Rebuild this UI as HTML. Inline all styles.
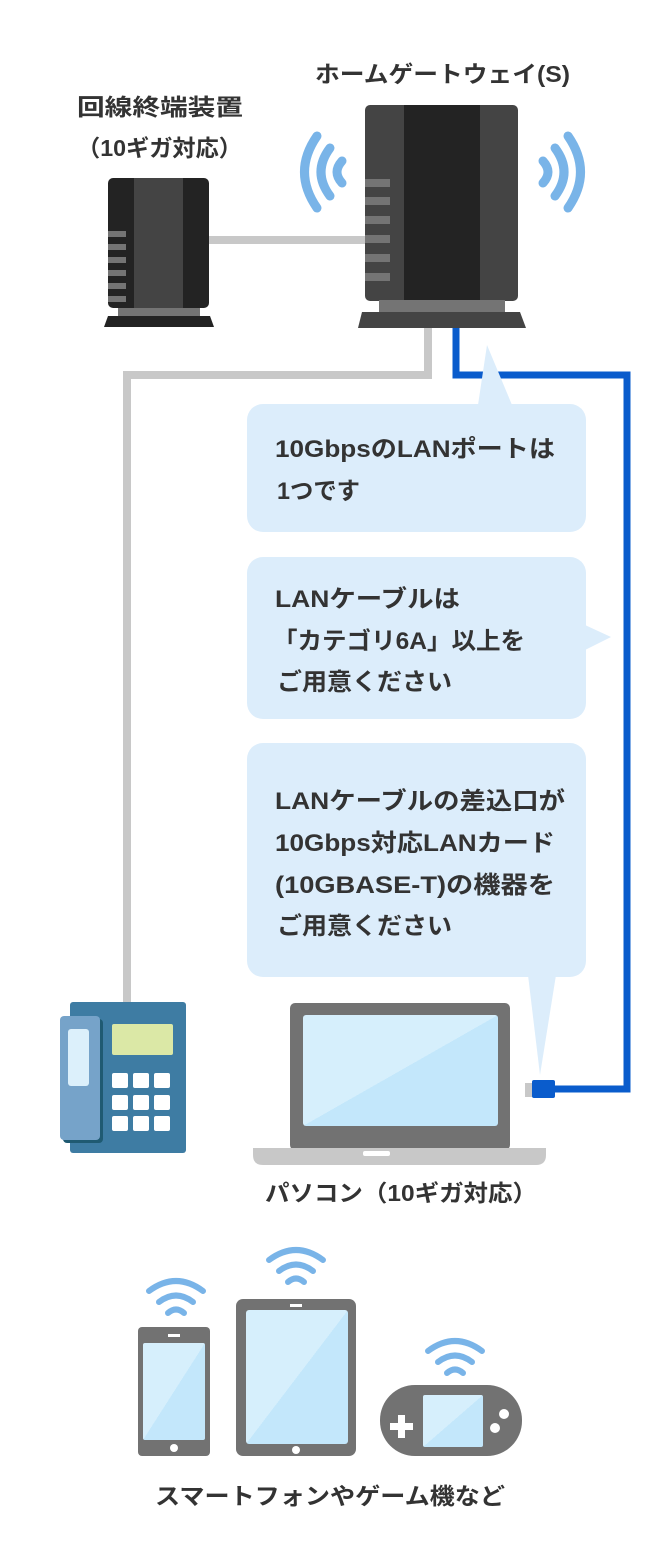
<!DOCTYPE html>
<html><head><meta charset="utf-8"><style>
html,body{margin:0;padding:0;background:#fff;}
svg{display:block;}
text{font-family:"Liberation Sans","Noto Sans CJK JP",sans-serif;font-weight:bold;fill:#333;}
</style></head><body>
<svg width="670" height="1565" viewBox="0 0 670 1565" xmlns="http://www.w3.org/2000/svg">
<defs>
<linearGradient id="scr" x1="0" y1="0" x2="1" y2="1">
<stop offset="0.5" stop-color="#d6effc"/><stop offset="0.5" stop-color="#c3e7fb"/>
</linearGradient>
</defs>
<text x="315" y="82" font-size="23" textLength="255" lengthAdjust="spacingAndGlyphs">ホームゲートウェイ(S)</text>
<text x="77" y="115" font-size="23" textLength="166" lengthAdjust="spacingAndGlyphs">回線終端装置</text>
<text x="77" y="156" font-size="23" textLength="165" lengthAdjust="spacingAndGlyphs">（10ギガ対応）</text>

<g fill="none" stroke="#c8c8c8" stroke-width="8">
<line x1="209" y1="240" x2="366" y2="240"/>
<polyline points="428,328 428,375 127,375 127,1003"/>
</g>
<polyline points="456,328 456,375 627,375 627,1089 553,1089" fill="none" stroke="#0a5ccc" stroke-width="7"/>

<rect x="108" y="178" width="101" height="130" rx="5" fill="#232323"/>
<rect x="134" y="178" width="49" height="130" fill="#444"/>
<g fill="#747474"><rect x="108" y="231" width="18" height="6"/><rect x="108" y="244" width="18" height="6"/><rect x="108" y="257" width="18" height="6"/><rect x="108" y="270" width="18" height="6"/><rect x="108" y="283" width="18" height="6"/><rect x="108" y="296" width="18" height="6"/></g>
<rect x="118" y="308" width="82" height="8" fill="#747474"/>
<path d="M108,316 H210 L214,327 H104 Z" fill="#232323"/>

<rect x="365" y="105" width="153" height="196" rx="5" fill="#444"/>
<rect x="404" y="105" width="76" height="196" fill="#232323"/>
<g fill="#747474"><rect x="365" y="179" width="25" height="8"/><rect x="365" y="197" width="25" height="8"/><rect x="365" y="216" width="25" height="8"/><rect x="365" y="235" width="25" height="8"/><rect x="365" y="254" width="25" height="8"/><rect x="365" y="273" width="25" height="8"/></g>
<rect x="379" y="300" width="126" height="12" fill="#747474"/>
<path d="M362,312 H520 L526,328 H358 Z" fill="#444"/>
<g fill="none" stroke="#79b4e8" stroke-width="9" stroke-linecap="round">
<path d="M342,161 Q332,172 342,183"/>
<path d="M330,148 Q312,172 330,196"/>
<path d="M317,136 Q292,172 317,208"/>
<path d="M543,161 Q553,172 543,183"/>
<path d="M555,148 Q573,172 555,196"/>
<path d="M568,136 Q593,172 568,208"/>
</g>

<g fill="#dcedfb">
<rect x="247" y="404" width="339" height="128" rx="16"/>
<path d="M478,405 L487,345 L512,405 Z"/>
<rect x="247" y="557" width="339" height="162" rx="16"/>
<path d="M585,625 L611,637 L585,650 Z"/>
<rect x="247" y="743" width="339" height="234" rx="16"/>
<path d="M528,975 L540,1075 L556,975 Z"/>
</g>
<g font-size="24">
<text x="275" y="457" textLength="280" lengthAdjust="spacingAndGlyphs">10GbpsのLANポートは</text>
<text x="277" y="499" textLength="83" lengthAdjust="spacingAndGlyphs">1つです</text>
<text x="275" y="607" textLength="185" lengthAdjust="spacingAndGlyphs">LANケーブルは</text>
<text x="273" y="649" textLength="252" lengthAdjust="spacingAndGlyphs">「カテゴリ6A」以上を</text>
<text x="277" y="690" textLength="175" lengthAdjust="spacingAndGlyphs">ご用意ください</text>
<text x="275" y="809" textLength="290" lengthAdjust="spacingAndGlyphs">LANケーブルの差込口が</text>
<text x="275" y="851" textLength="280" lengthAdjust="spacingAndGlyphs">10Gbps対応LANカード</text>
<text x="275" y="893" textLength="280" lengthAdjust="spacingAndGlyphs">(10GBASE-T)の機器を</text>
<text x="277" y="934" textLength="175" lengthAdjust="spacingAndGlyphs">ご用意ください</text>
</g>

<rect x="70" y="1002" width="116" height="151" rx="3" fill="#3e7ca3"/>
<rect x="63" y="1019" width="40" height="124" rx="4" fill="#1f5a72"/>
<rect x="60" y="1016" width="40" height="124" rx="4" fill="#76a3c9"/>
<rect x="68" y="1029" width="21" height="57" rx="3" fill="#dcf0fb"/>
<rect x="112" y="1024" width="61" height="31" rx="2" fill="#dbe8a6"/>
<g fill="#fff">
<rect x="112" y="1073" width="16" height="15" rx="2"/><rect x="133" y="1073" width="16" height="15" rx="2"/><rect x="154" y="1073" width="16" height="15" rx="2"/>
<rect x="112" y="1095" width="16" height="15" rx="2"/><rect x="133" y="1095" width="16" height="15" rx="2"/><rect x="154" y="1095" width="16" height="15" rx="2"/>
<rect x="112" y="1116" width="16" height="15" rx="2"/><rect x="133" y="1116" width="16" height="15" rx="2"/><rect x="154" y="1116" width="16" height="15" rx="2"/>
</g>

<rect x="290" y="1003" width="220" height="147" rx="5" fill="#727272"/>
<rect x="303" y="1015" width="195" height="111" rx="3" fill="url(#scr)"/>
<path d="M253,1148 H546 V1155 Q546,1165 536,1165 H263 Q253,1165 253,1155 Z" fill="#c8c8c8"/>
<rect x="363" y="1151" width="27" height="5" rx="2" fill="#fff"/>
<rect x="525" y="1083" width="9" height="14" fill="#c8c8c8"/>
<rect x="532" y="1080" width="23" height="18" rx="2" fill="#0a5ccc"/>
<text x="265" y="1201" font-size="23" textLength="272" lengthAdjust="spacingAndGlyphs">パソコン（10ギガ対応）</text>

<g fill="none" stroke="#79b4e8" stroke-width="6" stroke-linecap="round">
<path d="M168,1313 Q176,1306 184,1313"/><path d="M159,1302 Q176,1289 193,1302"/><path d="M149,1291 Q176,1271 203,1291"/>
<path d="M288,1282 Q296,1275 304,1282"/><path d="M279,1271 Q296,1258 313,1271"/><path d="M269,1260 Q296,1240 323,1260"/>
<path d="M447,1373 Q455,1366 463,1373"/><path d="M438,1362 Q455,1349 472,1362"/><path d="M428,1351 Q455,1331 482,1351"/>
</g>
<rect x="138" y="1327" width="72" height="129" rx="4" fill="#727272"/>
<rect x="143" y="1343" width="62" height="97" rx="2" fill="url(#scr)"/>
<rect x="168" y="1334" width="12" height="3" fill="#fff"/>
<circle cx="174" cy="1448" r="4" fill="#fff"/>
<rect x="236" y="1299" width="120" height="157" rx="7" fill="#727272"/>
<rect x="246" y="1310" width="102" height="134" rx="3" fill="url(#scr)"/>
<rect x="290" y="1304" width="12" height="3" fill="#fff"/>
<circle cx="296" cy="1450" r="4" fill="#fff"/>
<rect x="380" y="1385" width="142" height="71" rx="35" fill="#727272"/>
<rect x="423" y="1395" width="60" height="52" rx="2" fill="url(#scr)"/>
<path d="M390,1423 h8 v-8 h7 v8 h8 v7 h-8 v8 h-7 v-8 h-8 Z" fill="#fff"/>
<circle cx="504" cy="1414" r="5" fill="#fff"/>
<circle cx="495" cy="1428" r="5" fill="#fff"/>
<text x="155" y="1504" font-size="23" textLength="350" lengthAdjust="spacingAndGlyphs">スマートフォンやゲーム機など</text>
</svg>
</body></html>
